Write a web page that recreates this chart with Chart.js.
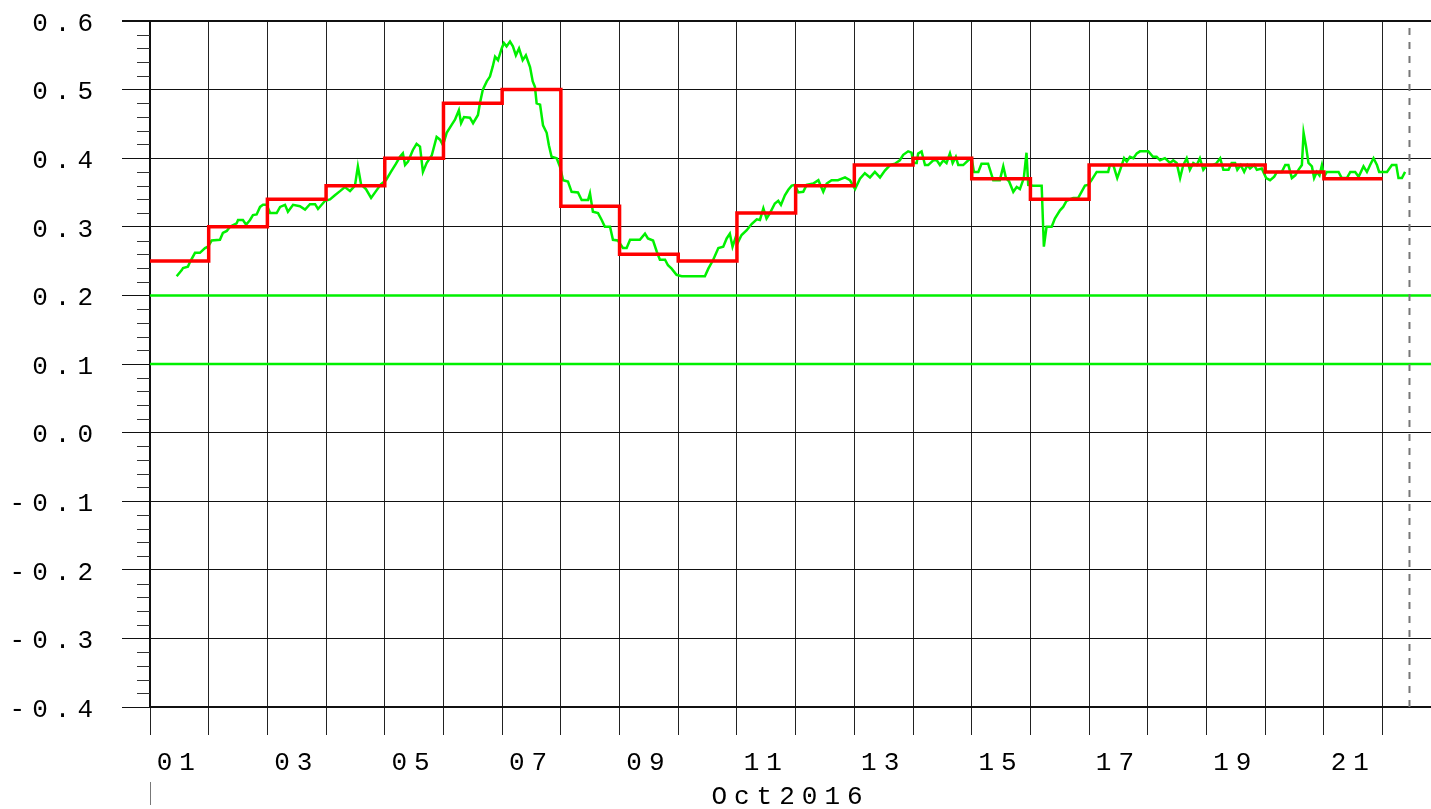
<!DOCTYPE html>
<html><head><meta charset="utf-8">
<script src="https://cdn.jsdelivr.net/npm/chart.js@4/dist/chart.umd.min.js"></script>
<style>html,body{margin:0;padding:0;background:#fff;overflow:hidden}#wrap{width:1431px;height:809px;position:relative}</style>
</head><body><div id="wrap"><canvas id="c"></canvas></div>
<script>
// ---- data (x in hours since 01 Oct 2016 00:00) ----
const axisTitle = 'Oct2016';
const dayLabels = ['01','03','05','07','09','11','13','15','17','19','21'];
const dayLabelHours = [12,60,108,156,204,252,300,348,396,444,492];
const dayStartHours = [0,24,48,72,96,120,144,168,192,216,240,264,288,312,336,360,384,408,432,456,480,504];
const redValues = [0.25,0.30,0.34,0.36,0.40,0.48,0.50,0.33,0.26,0.25,0.32,0.36,0.39,0.40,0.37,0.34,0.39,0.39,0.39,0.38,0.37,0.37];
const refLevels = [0.2, 0.1];
const nowHour = 515;
const xMaxHour = 523.8;
const yMin = -0.4, yMax = 0.6, yStep = 0.1;

const greenHours = [
 10.9,13.0,13.5,15.5,16.4,18.4,20.4,22.5,23.7,25.2,
 28.6,29.8,31.4,32.7,35.4,36.0,38.0,39.3,40.9,42.1,
 43.6,45.0,46.2,47.7,49.1,51.8,53.2,55.2,56.4,58.5,
 61.3,63.4,65.4,67.5,68.7,71.6,73.6,75.6,77.7,79.7,
 81.8,83.8,85.0,86.3,88.3,90.4,92.4,94.4,96.5,98.5,100.6,
 102.2,103.4,104.3,105.5,107.5,109.0,110.4,111.6,113.1,115.2,
 117.2,118.6,119.8,121.3,123.4,124.7,126.3,127.2,128.4,130.8,
 132.1,134.1,134.9,136.1,137.7,139.0,140.1,141.1,142.3,143.8,
 144.7,145.8,147.2,148.4,149.6,150.9,152.4,153.7,155.4,156.5,
 157.4,158.1,159.5,160.7,162.2,163.1,164.2,166.3,167.6,168.9,
 170.9,172.4,175.0,176.5,179.1,179.9,181.1,183.2,184.7,186.0,
 188.1,189.3,191.3,193.4,194.9,196.3,200.3,202.4,203.6,205.7,
 207.2,208.5,210.6,211.8,213.3,215.3,217.4,226.9,228.3,230.3,
 232.4,234.4,235.8,237.1,238.2,239.6,240.5,241.9,244.0,246.0,
 248.1,249.4,250.8,252.1,253.5,255.5,256.9,258.0,259.6,261.0,
 262.4,263.7,265.1,267.1,268.5,271.2,273.3,275.3,276.7,278.7,
 281.3,284.2,286.2,288.3,290.3,292.3,294.4,296.4,298.5,300.5,302.6,304.6,
 306.6,308.0,310.0,311.4,312.1,313.5,314.1,315.5,316.9,318.2,
 320.3,321.7,323.0,324.4,325.7,327.1,328.2,329.5,330.5,332.5,
 334.6,336.0,336.9,338.7,340.0,342.7,344.8,347.5,348.9,350.0,
 351.3,353.0,354.4,355.7,357.3,358.4,359.1,361.1,364.6,365.5,
 366.6,368.7,370.0,372.1,373.4,374.8,377.5,379.5,380.9,382.3,
 383.6,385.0,387.1,391.8,392.5,393.9,395.5,396.7,398.3,399.4,
 400.7,402.1,403.5,404.8,408.2,
 410.1,411.6,413.0,415.0,417.1,418.4,419.8,421.2,422.5,423.9,
 425.2,426.6,428.0,429.3,430.7,432.2,434.3,435.9,437.6,438.9,
 441.0,442.3,443.7,444.6,446.0,447.4,448.7,449.8,451.5,452.6,
 454.6,456.4,458.0,459.7,460.8,462.8,464.2,465.5,466.9,468.3,
 469.6,471.0,471.7,472.7,473.7,475.1,476.0,477.1,478.2,479.2,
 480.1,481.2,486.0,487.3,489.4,490.8,492.8,494.2,496.2,497.6,
 498.9,500.3,501.7,502.6,505.8,507.8,509.6,510.5,511.9,513.2
];
const greenValues = [
 0.228,0.237,0.240,0.242,0.249,0.262,0.262,0.269,0.271,0.280,
 0.281,0.291,0.294,0.300,0.305,0.310,0.310,0.303,0.310,0.317,
 0.318,0.329,0.332,0.332,0.320,0.320,0.329,0.332,0.322,0.332,
 0.330,0.325,0.333,0.333,0.326,0.338,0.340,0.346,0.352,0.358,
 0.352,0.360,0.388,0.362,0.355,0.342,0.352,0.362,0.368,0.380,0.392,
 0.402,0.407,0.390,0.395,0.412,0.421,0.417,0.380,0.393,0.404,
 0.431,0.427,0.419,0.437,0.449,0.456,0.470,0.451,0.460,0.459,
 0.451,0.463,0.480,0.500,0.512,0.519,0.533,0.548,0.543,0.560,
 0.568,0.563,0.570,0.563,0.550,0.560,0.543,0.550,0.533,0.512,
 0.504,0.480,0.478,0.448,0.437,0.419,0.402,0.400,0.388,0.368,
 0.366,0.351,0.350,0.339,0.339,0.349,0.322,0.320,0.310,0.300,
 0.300,0.281,0.280,0.269,0.269,0.281,0.281,0.290,0.283,0.280,
 0.264,0.252,0.252,0.244,0.239,0.230,0.228,0.228,0.239,0.252,
 0.269,0.271,0.283,0.290,0.271,0.286,0.278,0.288,0.295,0.304,
 0.311,0.310,0.327,0.312,0.320,0.334,0.338,0.332,0.346,0.354,
 0.360,0.361,0.350,0.351,0.361,0.363,0.368,0.351,0.363,0.368,
 0.368,0.372,0.368,0.355,0.370,0.378,0.372,0.380,0.372,0.382,0.390,0.392,
 0.397,0.405,0.410,0.408,0.393,0.393,0.407,0.410,0.390,0.390,
 0.397,0.397,0.390,0.397,0.393,0.407,0.393,0.402,0.390,0.390,
 0.397,0.400,0.380,0.380,0.392,0.392,0.368,0.368,0.388,0.371,
 0.366,0.351,0.358,0.355,0.371,0.408,0.361,0.360,0.360,0.271,
 0.300,0.300,0.312,0.324,0.329,0.338,0.342,0.342,0.351,0.360,
 0.361,0.368,0.380,0.380,0.390,0.390,0.371,0.383,0.400,0.395,
 0.402,0.400,0.407,0.410,0.410,
 0.402,0.402,0.397,0.400,0.393,0.397,0.393,0.371,0.390,0.400,
 0.383,0.393,0.390,0.400,0.383,0.390,0.390,0.392,0.400,0.383,
 0.383,0.393,0.393,0.383,0.390,0.380,0.390,0.385,0.390,0.383,
 0.385,0.371,0.368,0.373,0.380,0.380,0.390,0.390,0.371,0.375,
 0.383,0.390,0.437,0.417,0.393,0.388,0.371,0.380,0.375,0.390,
 0.373,0.380,0.380,0.371,0.371,0.380,0.380,0.373,0.388,0.380,
 0.390,0.400,0.390,0.380,0.380,0.390,0.390,0.371,0.371,0.380
];

// ---- styling ----
const FONT = {family:'"Liberation Mono", "Courier New", monospace', size:26, lineHeight:1};
const GREEN = 'rgb(0,240,0)';
const RED = 'rgb(255,0,0)';

const greenData = greenHours.map((h,i)=>({x:h,y:greenValues[i]}));
const redData = dayStartHours.map((h,i)=>({x:h,y:redValues[i]}));
const refSets = refLevels.map(v=>({
  data:[{x:0,y:v},{x:xMaxHour,y:v}], borderColor:GREEN, borderWidth:2.5, pointRadius:0, order:3
}));

const spacing = {
  id:'spacing',
  beforeDraw(c){ c.ctx.letterSpacing = '7px'; },
  afterDraw(c){
    const ctx=c.ctx, y=c.scales.y, x=c.scales.x;
    ctx.save();
    ctx.letterSpacing='0px';
    ctx.strokeStyle='#333'; ctx.lineWidth=1;
    for(let k=0;k<=50;k++){
      if(k%5===0) continue;
      const v = yMin + k*0.02;
      const py = Math.round(y.getPixelForValue(v))+0.5;
      ctx.beginPath(); ctx.moveTo(y.right-13,py); ctx.lineTo(y.right,py); ctx.stroke();
    }
    const px = Math.round(x.getPixelForValue(0))+0.5;
    ctx.strokeStyle='#777';
    ctx.beginPath(); ctx.moveTo(px,782); ctx.lineTo(px,805); ctx.stroke();
    ctx.restore();
  }
};

new Chart(document.getElementById('c'), {
  type:'line',
  data:{datasets:[
    {data:redData, borderColor:RED, borderWidth:3.5, pointRadius:0, stepped:'before', order:0},
    {data:greenData, borderColor:GREEN, borderWidth:2.5, pointRadius:0, tension:0, order:1},
    {data:[{x:nowHour,y:yMin},{x:nowHour,y:yMax}], borderColor:'#777', borderWidth:2, borderDash:[7,7], pointRadius:0, order:2},
    ...refSets
  ]},
  options:{
    responsive:true, maintainAspectRatio:false, animation:false, devicePixelRatio:1,
    layout:{padding:{top:21,right:0,bottom:0,left:0}},
    plugins:{legend:{display:false}, tooltip:{enabled:false}},
    scales:{
      x:{
        type:'linear', min:0, max:xMaxHour,
        afterBuildTicks(s){
          const t=[...dayStartHours.slice(0,22), ...dayLabelHours].sort((a,b)=>a-b);
          s.ticks=t.map(v=>({value:v}));
        },
        afterFit(s){ s.height = 102; s.paddingLeft = 0; s.paddingRight = 0; },
        grid:{
          color:c=> (c.tick && c.tick.value%24===0) ? '#222' : 'rgba(0,0,0,0)',
          lineWidth:1, tickLength:28
        },
        border:{display:true,color:'#111',width:2},
        ticks:{
          autoSkip:false, maxRotation:0, minRotation:0, padding:15,
          color:'#000', font:FONT,
          callback:v=>{ const i=dayLabelHours.indexOf(v); return i>=0?dayLabels[i]:''; }
        },
        title:{display:true, text:axisTitle, color:'#000', font:FONT, padding:{top:0,bottom:-1}}
      },
      y:{
        type:'linear', min:yMin, max:yMax,
        afterFit(s){ s.width = 150; s.paddingTop = 0; s.paddingBottom = 0; },
        grid:{
          color:'#111',
          lineWidth:c=> (c.tick && Math.abs(c.tick.value-yMax)<1e-6) ? 2 : 1,
          tickLength:28
        },
        border:{display:true,color:'#111',width:2},
        ticks:{
          stepSize:yStep, padding:22, labelOffset:3, color:'#000', font:FONT,
          callback:v=> (Math.abs(v)<1e-9?0:v).toFixed(1)
        }
      }
    }
  },
  plugins:[spacing]
});
</script></body></html>
